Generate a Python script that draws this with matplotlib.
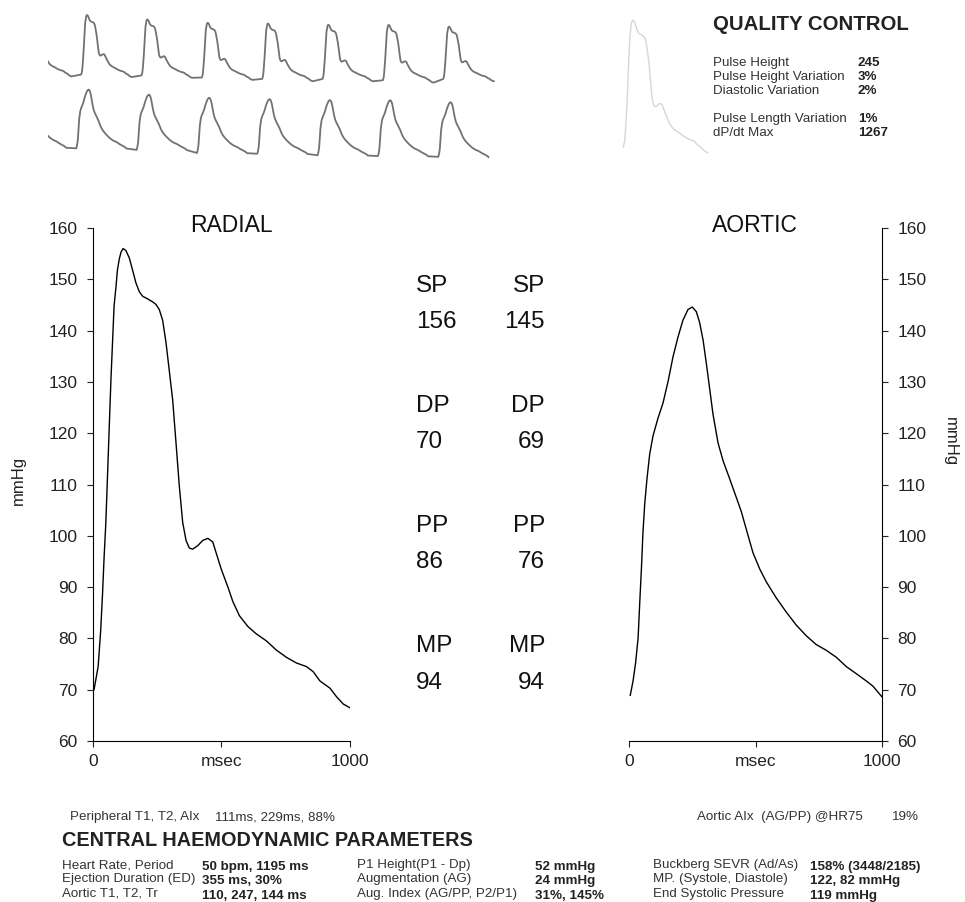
import matplotlib
matplotlib.use("Agg")
import matplotlib.pyplot as plt
import numpy as np

plt.rcParams["font.family"] = ["Liberation Sans", "DejaVu Sans"]

W, H = 965, 902

# radial pulse, one beat (msec, mmHg)
radial_t = [4, 20, 30, 37, 43, 50, 55, 60, 65, 70, 76, 82, 89, 95, 102, 109, 117,
            128, 141, 154, 167, 180, 193, 212, 232, 245, 258, 271, 284, 297, 310,
            323, 336, 349, 362, 375, 388, 408, 427, 447, 466, 479, 499, 525, 544,
            570, 603, 635, 675, 714, 753, 792, 831, 857, 883, 922, 948, 974, 1006]
radial_p = [70.0, 74.5, 81.6, 88.6, 95.6, 102.6, 109.6, 116.7, 123.7, 130.7, 137.7,
            144.8, 148.3, 151.8, 153.9, 155.3, 156.0, 155.6, 154.2, 151.8, 149.3,
            147.6, 146.7, 146.2, 145.6, 145.1, 144.1, 142.0, 137.7, 132.1, 126.5,
            118.1, 109.6, 102.6, 99.1, 97.6, 97.4, 98.1, 99.1, 99.5, 98.8, 96.7,
            93.5, 90.0, 87.2, 84.4, 82.3, 80.9, 79.5, 77.7, 76.3, 75.2, 74.5, 73.5,
            71.7, 70.3, 68.6, 67.2, 66.3]

# aortic (central) pulse, one beat
aortic_t = [5, 16, 26, 36, 42, 49, 55, 62, 71, 82, 95, 115, 134, 154, 174, 194, 213,
            233, 250, 266, 279, 293, 306, 319, 332, 352, 372, 398, 424, 444, 464,
            490, 517, 543, 582, 622, 661, 701, 740, 779, 820, 859, 899, 938, 964, 1000]
aortic_p = [68.9, 71.7, 75.2, 80.1, 86.5, 93.5, 100.5, 106.1, 111.1, 116.0, 119.5,
            123.0, 125.8, 130.0, 134.9, 138.8, 142.0, 144.1, 144.6, 143.7, 141.6,
            138.1, 133.5, 128.6, 123.7, 118.1, 114.6, 111.1, 107.5, 104.7, 101.2,
            96.7, 93.5, 91.0, 87.9, 85.1, 82.6, 80.5, 78.8, 77.7, 76.3, 74.5, 73.1,
            71.7, 70.7, 68.6]

# per-beat drift of the recorded traces (beat -1 .. 6)
period_ms = 1195
top_base = [1, 0, -1, -4, -6, -6, -8, -6]
top_amp = [1.0, 1.0, 0.94, 0.92, 0.93, 0.91, 0.93, 0.88]
bot_base = [1, 0, -2, -6, -7, -9, -10, -11]
bot_amp = [1.0, 1.0, 0.94, 0.94, 0.93, 0.94, 0.95, 0.93]

radial_stats = ["SP", "156", "DP", "70", "PP", "86", "MP", "94"]
aortic_stats = ["SP", "145", "DP", "69", "PP", "76", "MP", "94"]

qc_labels = ["Pulse Height", "Pulse Height Variation", "Diastolic Variation",
             "Pulse Length Variation", "dP/dt Max"]
qc_values = ["245", "3%", "2%", "1%", "1267"]

col1_labels = ["Heart Rate, Period", "Ejection Duration (ED)", "Aortic T1, T2, Tr"]
col1_values = ["50 bpm, 1195 ms", "355 ms, 30%", "110, 247, 144 ms"]
col2_labels = ["P1 Height(P1 - Dp)", "Augmentation (AG)", "Aug. Index (AG/PP, P2/P1)"]
col2_values = ["52 mmHg", "24 mmHg", "31%, 145%"]
col3_labels = ["Buckberg SEVR (Ad/As)", "MP. (Systole, Diastole)", "End Systolic Pressure"]
col3_values = ["158% (3448/2185)", "122, 82 mmHg", "119 mmHg"]


def box(x0, y0, x1, y1):
    return [x0 / W, 1 - y1 / H, (x1 - x0) / W, (y1 - y0) / H]


def txt(x, y, s, **kw):
    kw.setdefault("va", "center")
    fig.text(x / W, 1 - y / H, s, **kw)


def trace(ax, t, p, base, amp, lo):
    for i, k in enumerate(range(-1, 7)):
        tt = np.array(t) + k * period_ms
        pp = lo + base[i] + (np.array(p) - lo) * amp[i]
        if i == 0:
            xs, ys = list(tt), list(pp)
        else:
            xs += list(tt)
            ys += list(pp)
    ax.plot(xs, ys, color="#727272", lw=1.3)


fig = plt.figure(figsize=(W / 100, H / 100), dpi=100)

# recorded traces at the top
ax_top = fig.add_axes(box(48, 0, 495, 100))
trace(ax_top, radial_t, radial_p, top_base, top_amp, 66)
ax_top.set_xlim(-654, 8200)
ax_top.set_ylim(33.2, 177.7)
ax_top.axis("off")

ax_bot = fig.add_axes(box(48, 80, 495, 165))
trace(ax_bot, aortic_t, aortic_p, bot_base, bot_amp, 69)
ax_bot.set_xlim(-555, 8299)
ax_bot.set_ylim(47.4, 157)
ax_bot.axis("off")

# faint averaged pulse next to quality control
ax_g = fig.add_axes(box(618, 10, 715, 160))
ax_g.plot(radial_t, radial_p, color="#d6d6d6", lw=1.0)
ax_g.set_xlim(-59.5, 1095)
ax_g.set_ylim(61.3, 162.8)
ax_g.axis("off")

# quality control block
txt(713, 25, "QUALITY CONTROL", fontsize=14.7, fontweight="bold", color="#222222")
qc_y = [63, 77, 91, 119, 133]
for lab, val, y in zip(qc_labels, qc_values, qc_y):
    txt(713, y, lab, fontsize=9.6, color="#333333")
    txt(858, y, val, fontsize=9.6, fontweight="bold", color="#222222")

# main waveform panels
ax_r = fig.add_axes(box(93, 228, 350, 741))
ax_a = fig.add_axes(box(629, 228, 882, 741))
ax_r.plot(radial_t, radial_p, color="black", lw=1.0)
ax_a.plot(aortic_t, aortic_p, color="black", lw=1.0)

for ax in (ax_r, ax_a):
    ax.set_xlim(0, 1000)
    ax.set_ylim(60, 160)
    ax.set_xticks([0, 500, 1000])
    ax.set_xticklabels(["0", "msec", "1000"])
    ax.set_yticks(range(60, 161, 10))
    ax.spines["top"].set_visible(False)
    ax.tick_params(direction="out", length=4, width=0.8, labelsize=12.5,
                   colors="#222222", pad=7)
    ax.set_facecolor("none")

ax_r.spines["right"].set_visible(False)
ax_a.spines["left"].set_visible(False)
ax_a.yaxis.tick_right()
ax_a.tick_params(axis="x", pad=5)
ax_r.tick_params(axis="x", pad=5)

txt(18, 480, "mmHg", fontsize=12, rotation=90, ha="center", color="#222222")
txt(950, 442, "mmHg", fontsize=12, rotation=270, ha="center", color="#222222")
txt(231, 226, "RADIAL", fontsize=16.5, ha="center", color="#111111")
txt(755, 225, "AORTIC", fontsize=16.5, ha="center", color="#111111")

stat_y = [286, 322, 406, 442, 526, 562, 646, 683]
for s, y in zip(radial_stats, stat_y):
    txt(416, y, s, fontsize=17.5, ha="left", color="#111111")
for s, y in zip(aortic_stats, stat_y):
    txt(545, y, s, fontsize=17.5, ha="right", color="#111111")

# parameters block
txt(70, 817, "Peripheral T1, T2, AIx", fontsize=9.6, color="#333333")
txt(215, 817, "111ms, 229ms, 88%", fontsize=9.6, color="#333333")
txt(697, 817, "Aortic AIx  (AG/PP) @HR75", fontsize=9.6, color="#333333")
txt(892, 817, "19%", fontsize=9.6, color="#333333")
txt(62, 840, "CENTRAL HAEMODYNAMIC PARAMETERS", fontsize=14.3, fontweight="bold",
    color="#222222")

lab_y = [865, 879, 894]
val_y = [867, 881, 896]
for labs, vals, lx, vx in [(col1_labels, col1_values, 62, 202),
                           (col2_labels, col2_values, 357, 535),
                           (col3_labels, col3_values, 653, 810)]:
    for lab, val, ly, vy in zip(labs, vals, lab_y, val_y):
        txt(lx, ly, lab, fontsize=9.6, color="#333333")
        txt(vx, vy, val, fontsize=9.6, fontweight="bold", color="#222222")

fig.savefig("out.png", dpi=100, facecolor="white")
